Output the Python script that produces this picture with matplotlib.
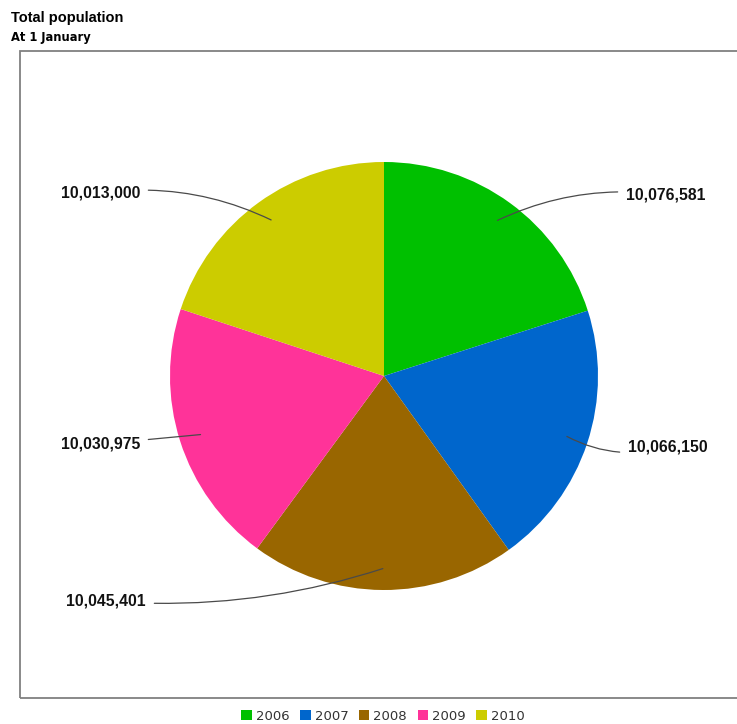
import matplotlib
matplotlib.use("Agg")
import matplotlib.pyplot as plt
from matplotlib.patches import Rectangle
import numpy as np

years = ["2006", "2007", "2008", "2009", "2010"]
population = [10076581, 10066150, 10045401, 10030975, 10013000]
colors = ["#00c000", "#0066cc", "#996600", "#ff3399", "#cccc00"]

W, H = 737, 724
fig = plt.figure(figsize=(W / 100, H / 100), dpi=100)

def fx(px):
    return px / W

def fy(py):
    return 1 - py / H

# frame around plot area
fig.patches.append(Rectangle((fx(20), fy(698)), 1.2, fy(51) - fy(698), transform=fig.transFigure,
                             fill=False, edgecolor="#808080", linewidth=1.3))

fig.text(fx(11), fy(18), "Total population", fontsize=10.5, fontweight="bold",
         family="Liberation Sans", va="center", ha="left")
fig.text(fx(11), fy(38), "At 1 January", fontsize=8.3, fontweight="bold",
         family="DejaVu Sans", va="center", ha="left")

cx, cy, r = 384, 376, 214
ax = fig.add_axes([fx(cx - r), fy(cy + r), (2 * r) / W, (2 * r) / H])
wedges, _ = ax.pie(population, colors=colors, startangle=90, counterclock=False,
                   radius=1, wedgeprops=dict(linewidth=0))
ax.set_xlim(-1, 1)
ax.set_ylim(-1, 1)
ax.axis("off")

# label positions (pixels) and side
label_pos = [(626, 195, "left", 0.15), (628, 447, "left", -0.2), (146, 601, "right", 0.1),
             (140, 444, "right", 0.0), (140, 193, "right", -0.15)]
for w, val, (tx, ty, ha, rad) in zip(wedges, population, label_pos):
    mid = np.deg2rad((w.theta1 + w.theta2) / 2)
    pt = (0.9 * np.cos(mid), 0.9 * np.sin(mid))
    ax.annotate(f"{val:,}", xy=pt, xycoords="data",
                xytext=(fx(tx), fy(ty)), textcoords="figure fraction",
                ha=ha, va="center", fontsize=11.3, fontweight="bold", family="Liberation Sans",
                color="#111111",
                arrowprops=dict(arrowstyle="-", color="#4a4a4a", lw=0.9,
                                connectionstyle=f"arc3,rad={rad}", shrinkA=4, shrinkB=0),
                annotation_clip=False)

# legend
handles = [Rectangle((0, 0), 1, 1, facecolor=c) for c in colors]
fig.legend(handles, years, loc="center", bbox_to_anchor=(fx(383), fy(716)), ncol=5,
           frameon=False, handlelength=0.8, handleheight=0.8, handletextpad=0.3,
           columnspacing=0.8, prop={"family": "DejaVu Sans", "size": 9.5},
           labelcolor="#333333")

fig.savefig("out.png", dpi=100)
